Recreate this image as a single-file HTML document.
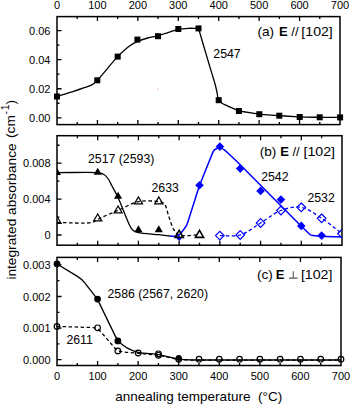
<!DOCTYPE html>
<html><head><meta charset="utf-8"><style>
html,body{margin:0;padding:0;background:#fff;}
svg{display:block;font-family:"Liberation Sans",sans-serif;}
</style></head><body>
<svg width="350" height="405" viewBox="0 0 350 405" fill="#000">
<text x="57.00" y="8.60" font-size="11" text-anchor="middle" >0</text>
<text x="97.43" y="8.60" font-size="11" text-anchor="middle" >100</text>
<text x="137.86" y="8.60" font-size="11" text-anchor="middle" >200</text>
<text x="178.29" y="8.60" font-size="11" text-anchor="middle" >300</text>
<text x="218.71" y="8.60" font-size="11" text-anchor="middle" >400</text>
<text x="259.14" y="8.60" font-size="11" text-anchor="middle" >500</text>
<text x="299.57" y="8.60" font-size="11" text-anchor="middle" >600</text>
<text x="340.00" y="8.60" font-size="11" text-anchor="middle" >700</text>
<rect x="57.00" y="16.60" width="283.00" height="108.00" fill="none" stroke="#000" stroke-width="1.50"/>
<path d="M77.21,16.60V19.10M77.21,124.60V122.10M97.43,16.60V21.10M97.43,124.60V120.10M117.64,16.60V19.10M117.64,124.60V122.10M137.86,16.60V21.10M137.86,124.60V120.10M158.07,16.60V19.10M158.07,124.60V122.10M178.29,16.60V21.10M178.29,124.60V120.10M198.50,16.60V19.10M198.50,124.60V122.10M218.71,16.60V21.10M218.71,124.60V120.10M238.93,16.60V19.10M238.93,124.60V122.10M259.14,16.60V21.10M259.14,124.60V120.10M279.36,16.60V19.10M279.36,124.60V122.10M299.57,16.60V21.10M299.57,124.60V120.10M319.79,16.60V19.10M319.79,124.60V122.10M57.00,117.80H61.50M57.00,88.73H61.50M57.00,59.66H61.50M57.00,30.59H61.50M57.00,103.27H59.50M57.00,74.19H59.50M57.00,45.12H59.50" stroke="#000" stroke-width="1.3" fill="none"/>
<text x="50.50" y="121.80" font-size="11" text-anchor="end" >0.00</text>
<text x="50.50" y="92.73" font-size="11" text-anchor="end" >0.02</text>
<text x="50.50" y="63.66" font-size="11" text-anchor="end" >0.04</text>
<text x="50.50" y="34.59" font-size="11" text-anchor="end" >0.06</text>
<path d="M57.00,96.50 C62.30,94.87 68.05,93.18 72.90,91.60 C77.03,90.26 80.85,88.96 84.30,87.70 C87.21,86.64 90.04,85.95 92.30,84.60 C94.28,83.41 95.18,82.42 97.30,80.30 C101.93,75.67 111.65,62.78 117.70,56.60 C122.01,52.20 125.80,48.67 129.50,46.00 C132.34,43.96 134.68,42.70 137.60,41.40 C140.72,40.00 144.29,38.93 147.70,38.00 C151.09,37.07 154.61,36.70 158.00,35.80 C161.38,34.90 164.64,33.68 168.00,32.60 C171.41,31.51 174.85,30.02 178.30,29.30 C181.65,28.61 185.03,28.45 188.40,28.30 C191.76,28.15 195.13,28.37 198.50,28.40" fill="none" stroke="#000" stroke-width="1.30" stroke-linejoin="round"/>
<path d="M198.50,28.40 C199.50,31.77 200.50,35.12 201.50,38.50 C202.50,41.92 203.45,45.26 204.50,48.80 C205.62,52.58 206.82,56.54 208.00,60.50 C209.22,64.57 210.48,68.79 211.70,72.90 C212.91,76.96 214.38,81.52 215.30,85.00 C215.99,87.61 216.36,89.51 216.90,91.90 C217.49,94.49 217.58,98.03 218.70,100.00 C219.54,101.48 220.83,102.30 222.10,103.20 C223.39,104.11 224.83,104.64 226.40,105.40 C228.25,106.30 230.44,107.28 232.50,108.20 C234.60,109.14 236.77,110.07 238.90,111.00" fill="none" stroke="#000" stroke-width="1.30" stroke-linejoin="round"/>
<path d="M238.90,111.00 L254.36,113.43 Q259.30,114.20 264.29,114.57 L274.31,115.33 Q279.30,115.70 284.29,116.02 L294.71,116.68 Q299.70,117.00 304.70,117.07 L315.70,117.24 Q319.70,117.30 323.70,117.32 L340.10,117.40" fill="none" stroke="#000" stroke-width="1.30" stroke-linejoin="round"/>
<rect x="54.00" y="93.50" width="6.00" height="6.00" fill="#000"/>
<rect x="94.30" y="77.30" width="6.00" height="6.00" fill="#000"/>
<rect x="114.70" y="53.60" width="6.00" height="6.00" fill="#000"/>
<rect x="134.40" y="36.60" width="6.00" height="6.00" fill="#000"/>
<rect x="155.00" y="33.20" width="6.00" height="6.00" fill="#000"/>
<rect x="175.30" y="26.00" width="6.00" height="6.00" fill="#000"/>
<rect x="195.50" y="25.40" width="6.00" height="6.00" fill="#000"/>
<rect x="215.70" y="97.20" width="6.00" height="6.00" fill="#000"/>
<rect x="235.90" y="108.00" width="6.00" height="6.00" fill="#000"/>
<rect x="256.30" y="111.20" width="6.00" height="6.00" fill="#000"/>
<rect x="276.30" y="112.70" width="6.00" height="6.00" fill="#000"/>
<rect x="296.70" y="114.00" width="6.00" height="6.00" fill="#000"/>
<rect x="316.70" y="114.30" width="6.00" height="6.00" fill="#000"/>
<rect x="337.10" y="114.40" width="6.00" height="6.00" fill="#000"/>
<text x="213.30" y="58.20" font-size="12.3" text-anchor="start" >2547</text>
<text x="257.40" y="36.30" font-size="13.6" text-anchor="start" >(a)</text>
<text x="278.90" y="36.30" font-size="13" text-anchor="start" font-weight="bold">E</text>
<text x="291.30" y="36.30" font-size="13" text-anchor="start" >//</text>
<text transform="translate(332.80,36.30) scale(1.09,1)" font-size="13" text-anchor="end">[102]</text>
<rect x="57.00" y="135.70" width="285.00" height="109.50" fill="none" stroke="#000" stroke-width="1.50"/>
<path d="M77.36,135.70V138.20M77.36,245.20V242.70M97.71,135.70V140.20M97.71,245.20V240.70M118.07,135.70V138.20M118.07,245.20V242.70M138.43,135.70V140.20M138.43,245.20V240.70M158.79,135.70V138.20M158.79,245.20V242.70M179.14,135.70V140.20M179.14,245.20V240.70M199.50,135.70V138.20M199.50,245.20V242.70M219.86,135.70V140.20M219.86,245.20V240.70M240.21,135.70V138.20M240.21,245.20V242.70M260.57,135.70V140.20M260.57,245.20V240.70M280.93,135.70V138.20M280.93,245.20V242.70M301.29,135.70V140.20M301.29,245.20V240.70M321.64,135.70V138.20M321.64,245.20V242.70M57.00,235.00H61.50M57.00,199.10H61.50M57.00,163.20H61.50M57.00,217.05H59.50M57.00,181.15H59.50M57.00,145.25H59.50" stroke="#000" stroke-width="1.3" fill="none"/>
<text x="50.50" y="239.00" font-size="11" text-anchor="end" >0</text>
<text x="50.50" y="203.10" font-size="11" text-anchor="end" >0.004</text>
<text x="50.50" y="167.20" font-size="11" text-anchor="end" >0.008</text>
<defs><clipPath id="cb"><rect x="57" y="135.7" width="285" height="109.5"/></clipPath></defs>
<g clip-path="url(#cb)">
<path d="M57.00,172.60 C70.47,172.60 91.57,172.13 97.40,172.60 C99.03,172.73 99.49,172.82 100.50,173.10 C101.52,173.38 102.56,173.76 103.50,174.30 C104.47,174.85 105.37,175.57 106.20,176.40 C107.08,177.29 107.81,178.26 108.60,179.50 C109.62,181.10 110.41,183.03 111.60,185.30 C113.29,188.53 115.76,192.65 117.80,197.00 C120.24,202.20 122.94,209.55 125.00,214.50 C126.52,218.15 127.76,221.43 129.00,224.00 C129.88,225.83 130.50,227.34 131.50,228.60 C132.37,229.71 133.36,230.63 134.50,231.30 C135.65,231.97 136.56,232.20 138.40,232.60 C142.51,233.49 153.01,234.07 158.80,234.70 C163.09,235.17 166.27,235.57 170.00,236.00" fill="none" stroke="#000" stroke-width="1.30" stroke-linejoin="round"/>
<path d="M57.00,222.50 C68.67,222.47 85.43,223.96 92.00,222.40 C94.78,221.74 95.92,220.46 97.60,219.60 C98.99,218.89 99.66,218.43 101.40,217.60 C104.97,215.89 112.26,212.92 118.10,210.40 C124.54,207.62 131.47,203.04 138.40,201.60 C145.05,200.22 154.76,201.06 158.80,201.60 C160.55,201.83 161.44,202.01 162.50,202.60 C163.52,203.16 164.31,203.77 165.10,205.00 C166.51,207.20 167.28,211.93 168.60,215.70 C170.10,220.00 171.64,226.02 173.70,229.40 C175.15,231.79 176.05,233.67 178.60,234.80 C182.93,236.72 192.53,234.80 199.50,234.80" fill="none" stroke="#000" stroke-width="1.30" stroke-dasharray="3.5,2.5" stroke-linejoin="round"/>
<path d="M170.00,236.30 L175.40,236.30 Q178.40,236.30 180.24,233.93 L184.86,227.97 Q186.70,225.60 187.61,222.74 L198.09,189.81 Q199.30,186.00 200.79,182.29 L212.91,152.12 Q214.00,149.40 216.80,148.55 L217.63,148.30 Q219.60,147.70 221.55,148.35 L221.55,148.35 Q223.50,149.00 225.01,150.39 L231.65,156.49 Q234.60,159.20 237.42,162.03 L299.59,224.48 Q301.00,225.90 302.44,227.29 L309.36,234.01 Q310.80,235.40 312.79,235.58 L317.62,236.03 Q321.60,236.40 325.60,236.52 L342.00,237.00" fill="none" stroke="#0000ff" stroke-width="1.50" stroke-linejoin="round"/>
<path d="M219.86,235.60 C226.64,235.40 233.66,236.89 240.21,235.00 C247.27,232.96 253.80,227.07 260.57,223.00 C267.38,218.91 273.87,213.10 280.93,210.50 C287.48,208.08 294.69,206.17 301.29,207.30 C308.28,208.50 315.01,214.05 321.64,218.30 C328.60,222.76 335.21,228.50 342.00,233.60" fill="none" stroke="#0000ff" stroke-width="1.30" stroke-dasharray="3.5,2.5" stroke-linejoin="round"/>
<polygon points="179.14,235.80 181.74,238.40 179.14,241.00 176.54,238.40" fill="#0000ff"/>
<polygon points="57.00,167.93 52.90,174.93 61.10,174.93" fill="#000"/>
<polygon points="97.71,167.83 93.61,174.83 101.81,174.83" fill="#000"/>
<polygon points="118.07,191.73 113.97,198.73 122.17,198.73" fill="#000"/>
<polygon points="138.43,225.33 134.33,232.33 142.53,232.33" fill="#000"/>
<polygon points="158.79,225.33 154.69,232.33 162.89,232.33" fill="#000"/>
<polygon points="57.00,216.33 52.90,223.33 61.10,223.33" fill="none" stroke="#000" stroke-width="1.20" stroke-linejoin="miter"/>
<polygon points="97.71,213.93 93.61,220.93 101.81,220.93" fill="none" stroke="#000" stroke-width="1.20" stroke-linejoin="miter"/>
<polygon points="118.07,205.93 113.97,212.93 122.17,212.93" fill="none" stroke="#000" stroke-width="1.20" stroke-linejoin="miter"/>
<polygon points="138.43,196.83 134.33,203.83 142.53,203.83" fill="none" stroke="#000" stroke-width="1.20" stroke-linejoin="miter"/>
<polygon points="158.79,196.83 154.69,203.83 162.89,203.83" fill="none" stroke="#000" stroke-width="1.20" stroke-linejoin="miter"/>
<polygon points="179.14,230.33 175.04,237.33 183.24,237.33" fill="none" stroke="#000" stroke-width="1.60" stroke-linejoin="miter"/>
<polygon points="199.50,230.33 195.40,237.33 203.60,237.33" fill="none" stroke="#000" stroke-width="1.60" stroke-linejoin="miter"/>
<polygon points="199.50,180.90 203.80,185.20 199.50,189.50 195.20,185.20" fill="#0000ff"/>
<polygon points="219.86,142.30 224.16,146.60 219.86,150.90 215.56,146.60" fill="#0000ff"/>
<polygon points="240.21,164.30 244.51,168.60 240.21,172.90 235.91,168.60" fill="#0000ff"/>
<polygon points="260.57,186.60 264.87,190.90 260.57,195.20 256.27,190.90" fill="#0000ff"/>
<polygon points="280.93,195.30 285.23,199.60 280.93,203.90 276.63,199.60" fill="#0000ff"/>
<polygon points="301.29,221.60 305.59,225.90 301.29,230.20 296.99,225.90" fill="#0000ff"/>
<polygon points="321.64,231.30 325.94,235.60 321.64,239.90 317.34,235.60" fill="#0000ff"/>
<polygon points="219.86,231.30 224.16,235.60 219.86,239.90 215.56,235.60" fill="none" stroke="#0000ff" stroke-width="1.2"/>
<polygon points="240.21,230.70 244.51,235.00 240.21,239.30 235.91,235.00" fill="none" stroke="#0000ff" stroke-width="1.2"/>
<polygon points="260.57,218.70 264.87,223.00 260.57,227.30 256.27,223.00" fill="none" stroke="#0000ff" stroke-width="1.2"/>
<polygon points="280.93,206.20 285.23,210.50 280.93,214.80 276.63,210.50" fill="none" stroke="#0000ff" stroke-width="1.2"/>
<polygon points="301.29,203.00 305.59,207.30 301.29,211.60 296.99,207.30" fill="none" stroke="#0000ff" stroke-width="1.2"/>
<polygon points="321.64,214.00 325.94,218.30 321.64,222.60 317.34,218.30" fill="none" stroke="#0000ff" stroke-width="1.2"/>
<polygon points="342.00,229.30 346.30,233.60 342.00,237.90 337.70,233.60" fill="none" stroke="#0000ff" stroke-width="1.2"/>
</g>
<text x="88.00" y="162.50" font-size="12.3" text-anchor="start" >2517 (2593)</text>
<text x="151.50" y="192.20" font-size="12.3" text-anchor="start" >2633</text>
<text x="261.20" y="181.00" font-size="12.3" text-anchor="start" >2542</text>
<text x="307.40" y="201.50" font-size="12.3" text-anchor="start" >2532</text>
<text x="259.70" y="156.30" font-size="13.6" text-anchor="start" >(b)</text>
<text x="280.20" y="156.30" font-size="13" text-anchor="start" font-weight="bold">E</text>
<text x="292.50" y="156.30" font-size="13" text-anchor="start" >//</text>
<text transform="translate(335.00,156.30) scale(1.09,1)" font-size="13" text-anchor="end">[102]</text>
<rect x="57.00" y="257.40" width="284.00" height="108.10" fill="none" stroke="#000" stroke-width="1.50"/>
<path d="M77.29,257.40V259.90M77.29,365.50V363.00M97.57,257.40V261.90M97.57,365.50V361.00M117.86,257.40V259.90M117.86,365.50V363.00M138.14,257.40V261.90M138.14,365.50V361.00M158.43,257.40V259.90M158.43,365.50V363.00M178.71,257.40V261.90M178.71,365.50V361.00M199.00,257.40V259.90M199.00,365.50V363.00M219.29,257.40V261.90M219.29,365.50V361.00M239.57,257.40V259.90M239.57,365.50V363.00M259.86,257.40V261.90M259.86,365.50V361.00M280.14,257.40V259.90M280.14,365.50V363.00M300.43,257.40V261.90M300.43,365.50V361.00M320.71,257.40V259.90M320.71,365.50V363.00M57.00,359.70H61.50M57.00,328.10H61.50M57.00,296.50H61.50M57.00,264.90H61.50M57.00,343.90H59.50M57.00,312.30H59.50M57.00,280.70H59.50" stroke="#000" stroke-width="1.3" fill="none"/>
<text x="50.50" y="363.70" font-size="11" text-anchor="end" >0.000</text>
<text x="50.50" y="332.10" font-size="11" text-anchor="end" >0.001</text>
<text x="50.50" y="300.50" font-size="11" text-anchor="end" >0.002</text>
<text x="50.50" y="268.90" font-size="11" text-anchor="end" >0.003</text>
<path d="M56.60,263.80 L77.42,276.41 Q81.70,279.00 84.78,282.94 L94.32,295.16 Q97.40,299.10 99.58,303.60 L115.42,336.40 Q117.60,340.90 121.53,343.99 L123.07,345.21 Q127.00,348.30 131.66,350.11 L133.44,350.79 Q138.10,352.60 143.08,353.04 L153.32,353.96 Q158.30,354.40 163.16,355.57 L173.74,358.13 Q178.60,359.30 183.59,359.61 L185.01,359.69 Q190.00,360.00 195.00,360.00 L341.00,360.00" fill="none" stroke="#000" stroke-width="1.30" stroke-linejoin="round"/>
<path d="M56.60,326.40 L93.20,327.57 Q97.20,327.70 99.82,330.72 L114.78,347.98 Q117.40,351.00 121.36,351.58 L123.04,351.82 Q127.00,352.40 130.99,352.69 L134.11,352.91 Q138.10,353.20 142.08,353.59 L154.32,354.81 Q158.30,355.20 162.21,356.05 L174.69,358.75 Q178.60,359.60 182.60,359.78 L186.00,359.92 Q190.00,360.10 194.00,360.10 L341.00,360.10" fill="none" stroke="#000" stroke-width="1.30" stroke-dasharray="3.5,2.5" stroke-linejoin="round"/>
<circle cx="57.00" cy="263.80" r="3.40" fill="#000"/>
<circle cx="97.57" cy="299.10" r="3.40" fill="#000"/>
<circle cx="117.86" cy="340.90" r="3.40" fill="#000"/>
<circle cx="178.71" cy="358.00" r="3.00" fill="#000"/>
<circle cx="57.00" cy="326.40" r="2.80" fill="none" stroke="#000" stroke-width="1.2"/>
<circle cx="97.57" cy="327.80" r="2.80" fill="none" stroke="#000" stroke-width="1.2"/>
<circle cx="117.86" cy="350.90" r="2.80" fill="none" stroke="#000" stroke-width="1.2"/>
<circle cx="138.14" cy="353.00" r="2.80" fill="none" stroke="#000" stroke-width="1.2"/>
<circle cx="158.43" cy="353.80" r="2.80" fill="none" stroke="#000" stroke-width="1.2"/>
<circle cx="158.43" cy="355.30" r="2.80" fill="none" stroke="#000" stroke-width="1.2"/>
<circle cx="178.71" cy="359.30" r="2.80" fill="none" stroke="#000" stroke-width="1.2"/>
<circle cx="199.00" cy="359.20" r="2.80" fill="none" stroke="#000" stroke-width="1.2"/>
<circle cx="219.29" cy="359.20" r="2.80" fill="none" stroke="#000" stroke-width="1.2"/>
<circle cx="239.57" cy="359.20" r="2.80" fill="none" stroke="#000" stroke-width="1.2"/>
<circle cx="259.86" cy="359.20" r="2.80" fill="none" stroke="#000" stroke-width="1.2"/>
<circle cx="280.14" cy="359.20" r="2.80" fill="none" stroke="#000" stroke-width="1.2"/>
<circle cx="300.43" cy="359.20" r="2.80" fill="none" stroke="#000" stroke-width="1.2"/>
<circle cx="320.71" cy="359.20" r="2.80" fill="none" stroke="#000" stroke-width="1.2"/>
<circle cx="341.00" cy="359.20" r="2.80" fill="none" stroke="#000" stroke-width="1.2"/>
<text x="107.50" y="298.20" font-size="12.3" text-anchor="start" >2586 (2567, 2620)</text>
<text x="66.40" y="343.80" font-size="12.3" text-anchor="start" >2611</text>
<text x="256.90" y="278.60" font-size="13.6" text-anchor="start" >(c)</text>
<text x="275.70" y="278.60" font-size="13" text-anchor="start" font-weight="bold">E</text>
<path d="M293.30,271.20V278.60M289.00,278.10H297.60" stroke="#555" stroke-width="1.1" fill="none"/>
<text transform="translate(332.40,278.60) scale(1.09,1)" font-size="13" text-anchor="end">[102]</text>
<rect x="157.1" y="88.7" width="1.3" height="1.2" fill="#f7a0a0"/>
<text x="57.00" y="379.60" font-size="11" text-anchor="middle" >0</text>
<text x="97.57" y="379.60" font-size="11" text-anchor="middle" >100</text>
<text x="138.14" y="379.60" font-size="11" text-anchor="middle" >200</text>
<text x="178.71" y="379.60" font-size="11" text-anchor="middle" >300</text>
<text x="219.29" y="379.60" font-size="11" text-anchor="middle" >400</text>
<text x="259.86" y="379.60" font-size="11" text-anchor="middle" >500</text>
<text x="300.43" y="379.60" font-size="11" text-anchor="middle" >600</text>
<text x="341.00" y="379.60" font-size="11" text-anchor="middle" >700</text>
<text x="115.30" y="401.30" font-size="13.5" text-anchor="start" >annealing temperature</text>
<text x="258.00" y="401.30" font-size="13.5" text-anchor="start" >(&#176;C)</text>
<text transform="translate(15.6,279.6) rotate(-90)" font-size="13.7">integrated absorbance</text>
<text transform="translate(14.8,138.0) rotate(-90)" font-size="13.7">(cm<tspan dy="-5.5" dx="0.6" font-size="10.5">-</tspan><tspan font-size="10.5" dx="0.8">1</tspan><tspan dy="5.5">)</tspan></text>
</svg>
</body></html>
